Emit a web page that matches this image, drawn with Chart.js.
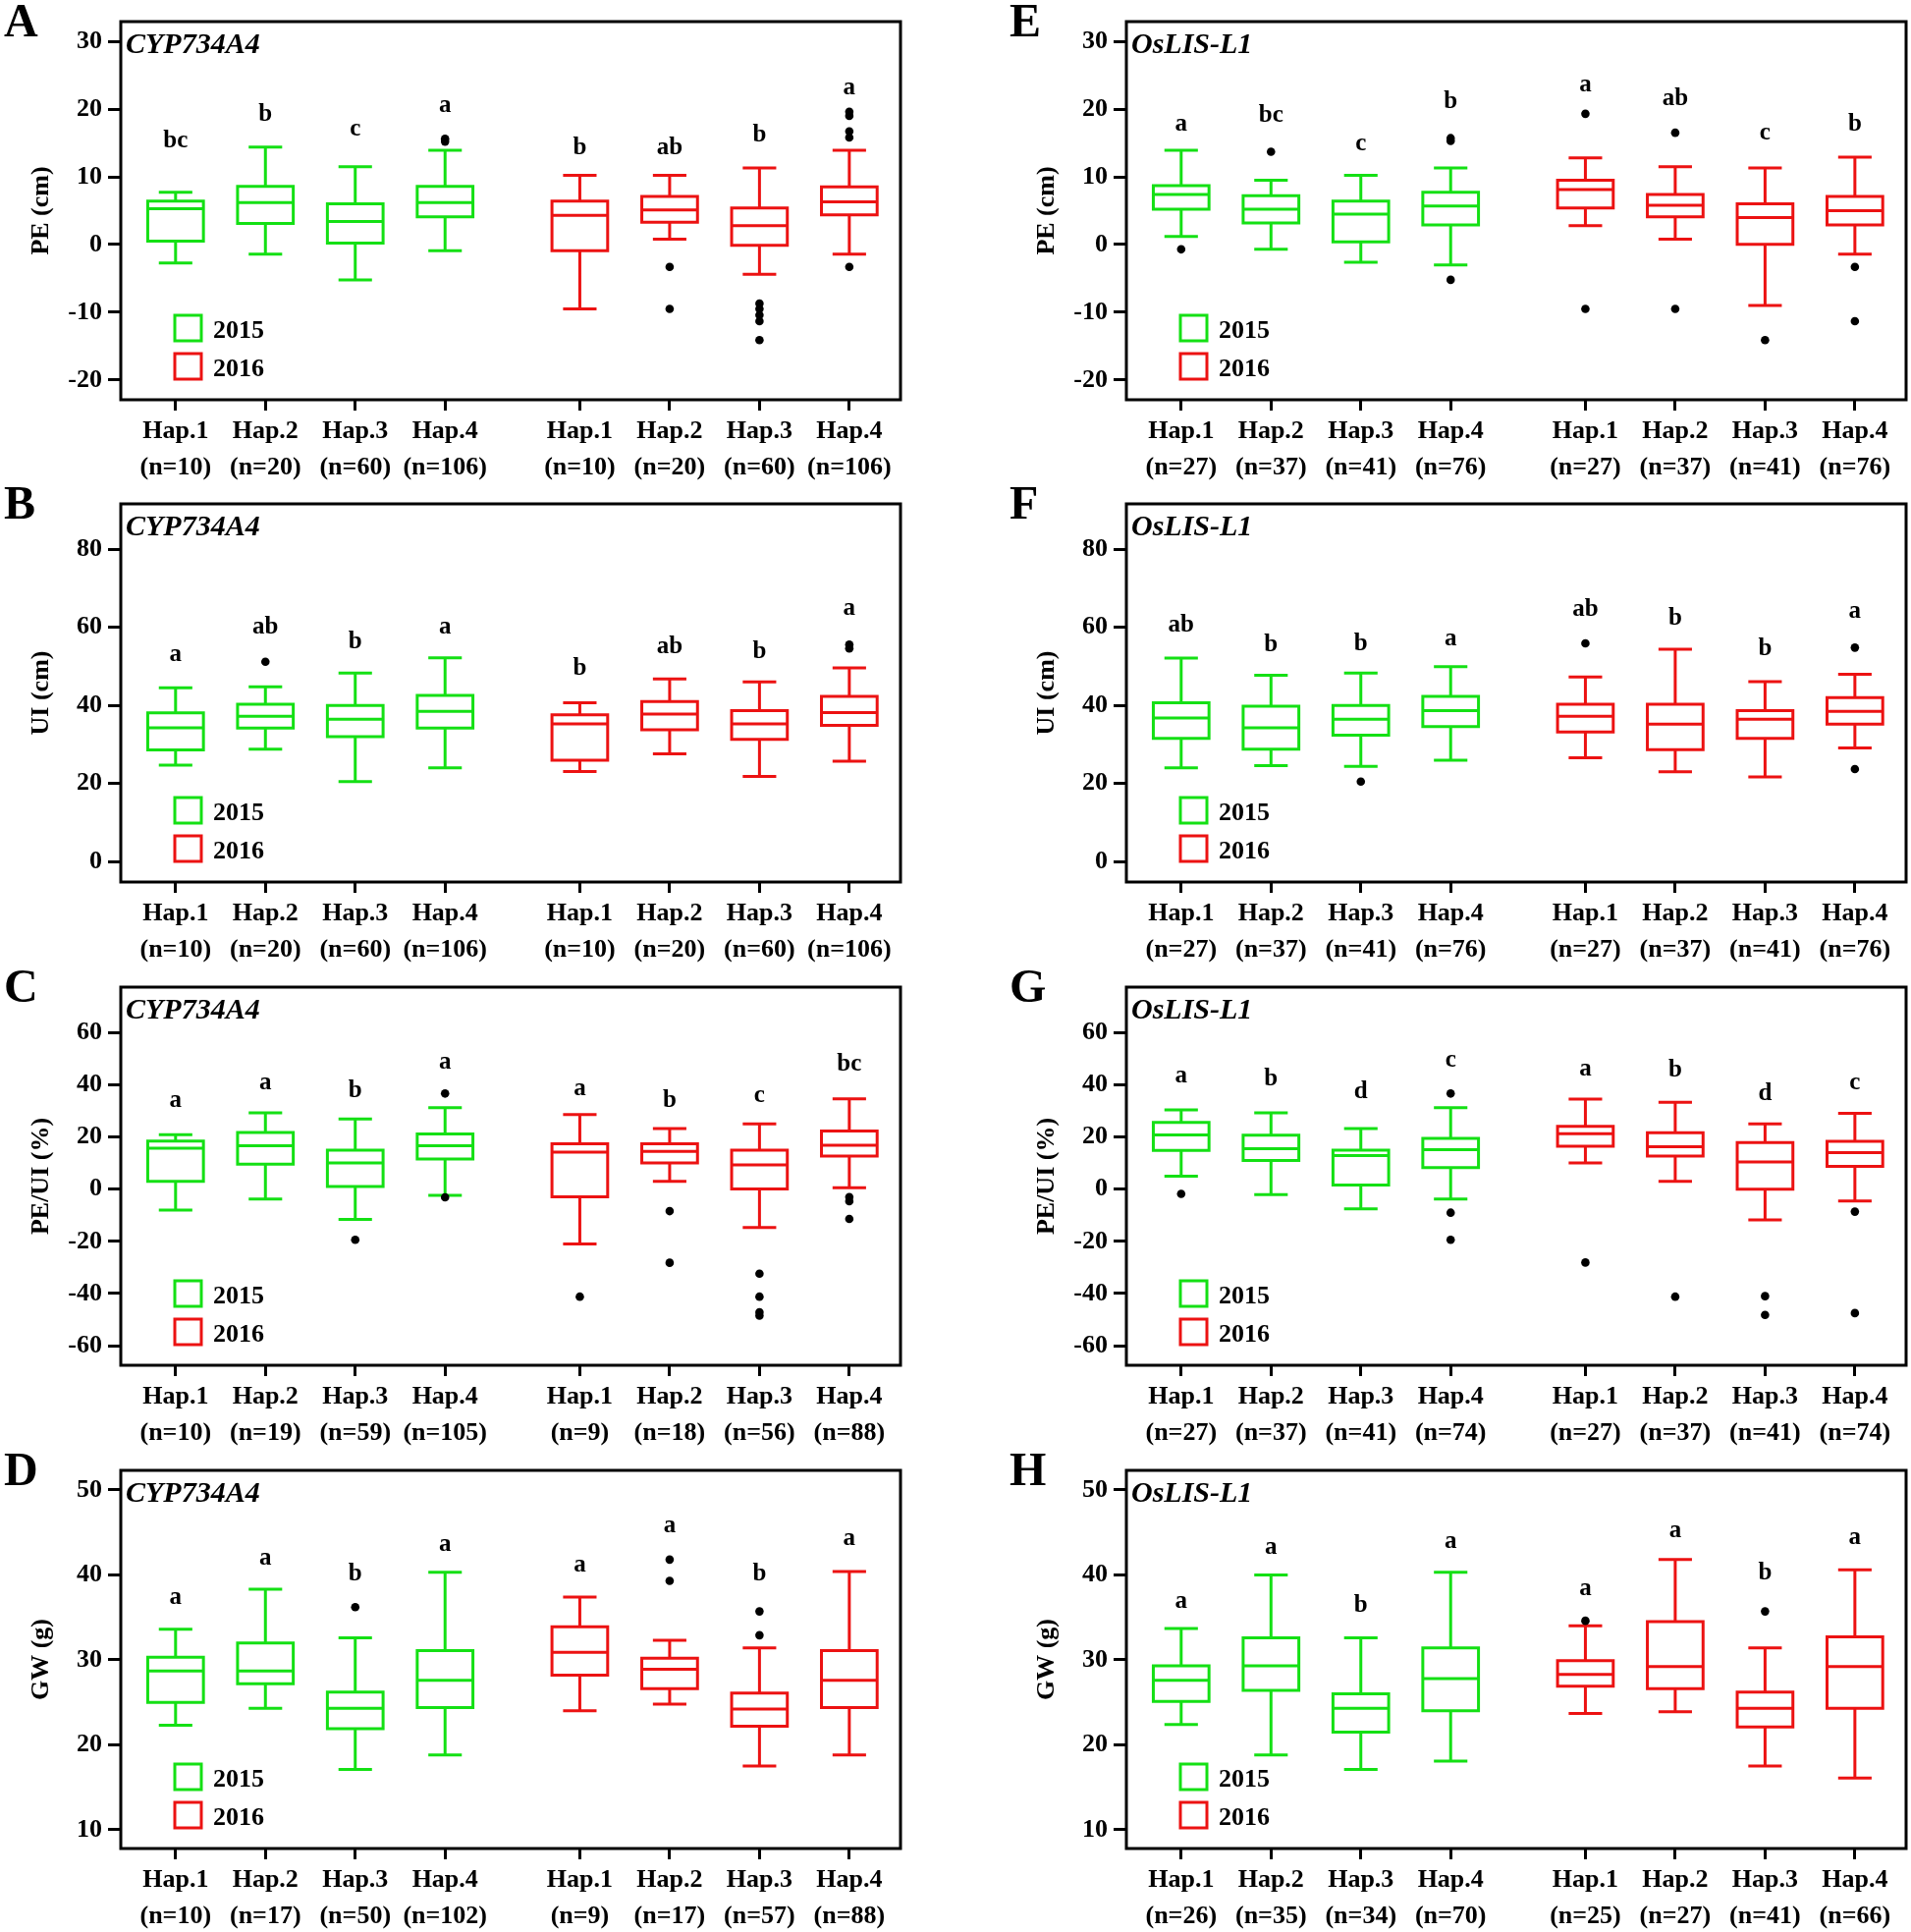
<!DOCTYPE html>
<html>
<head>
<meta charset="utf-8">
<script src="https://cdn.jsdelivr.net/npm/chart.js@4.4.1/dist/chart.umd.min.js"></script>
<style>
  body { margin: 0; background: #fff; }
  #wrap { position: relative; width: 1946px; height: 1967px; overflow: hidden; }
  #wrap canvas { position: absolute; }
</style>
</head>
<body>
<div id="wrap"></div>
<script>
const haps = ['Hap.1', 'Hap.2', 'Hap.3', 'Hap.4']
const years = ['2015', '2016']
const yearColors = ['#14e014', '#ec1212']

const peTicks = [-20, -10, 0, 10, 20, 30]
const uiTicks = [0, 20, 40, 60, 80]
const ratioTicks = [-60, -40, -20, 0, 20, 40, 60]
const gwTicks = [10, 20, 30, 40, 50]

// each box: [lower whisker, Q1, median, Q3, upper whisker]; Hap.1-4 of 2015, then Hap.1-4 of 2016
const statsA = [[-2.7, 0.5, 5.3, 6.4, 7.7], [-1.4, 3.1, 6.2, 8.6, 14.4], [-5.2, 0.2, 3.4, 6.0, 11.5], [-0.9, 4.1, 6.2, 8.6, 13.9],
                [-9.5, -0.9, 4.3, 6.4, 10.2], [0.8, 3.3, 5.1, 7.1, 10.2], [-4.4, -0.1, 2.8, 5.4, 11.3], [-1.4, 4.4, 6.3, 8.5, 13.9]]
const outA = [[], [], [], [15.6, 15.2], [], [-3.3, -9.5], [-8.7, -9.5, -10.4, -11.3, -14.1], [19.6, 19.0, 16.7, 15.8, -3.3]]
const lettersA = ['bc', 'b', 'c', 'a', 'b', 'ab', 'b', 'a']
const letterYA = [15.5, 19.4, 17.2, 20.7, 14.5, 14.5, 16.4, 23.4]
const nA = [10, 20, 60, 106, 10, 20, 60, 106]

const statsB = [[24.7, 28.6, 34.3, 38.1, 44.5], [28.8, 34.2, 37.2, 40.3, 44.8], [20.5, 32.0, 36.5, 40.0, 48.3], [24.0, 34.2, 38.5, 42.6, 52.2],
                [23.1, 26.0, 35.3, 37.6, 40.7], [27.6, 33.8, 37.8, 41.0, 46.8], [21.8, 31.3, 35.3, 38.7, 46.0], [25.7, 34.9, 38.2, 42.3, 49.6]]
const outB = [[], [51.2], [], [], [], [], [], [55.6, 54.6]]
const lettersB = ['a', 'ab', 'b', 'a', 'b', 'ab', 'b', 'a']
const letterYB = [53.5, 60.4, 56.6, 60.4, 49.8, 55.4, 54.1, 65.1]
const nB = [10, 20, 60, 106, 10, 20, 60, 106]

const statsC = [[-8.0, 3.0, 15.7, 18.5, 20.9], [-3.8, 9.6, 16.7, 21.8, 29.3], [-11.6, 1.0, 10.1, 15.0, 26.9], [-2.3, 11.6, 16.7, 21.2, 31.3],
                [-21.0, -2.9, 14.2, 17.4, 28.6], [3.0, 10.1, 14.5, 17.4, 23.3], [-14.7, 0.1, 9.3, 15.0, 25.1], [0.6, 12.7, 16.9, 22.3, 34.7]]
const outC = [[], [], [-19.4], [36.7, -3.1], [-41.2], [-8.4, -28.2], [-32.4, -41.2, -47.2, -48.5], [-3.0, -4.6, -11.4]]
const lettersC = ['a', 'a', 'b', 'a', 'a', 'b', 'c', 'bc']
const letterYC = [34.6, 41.5, 38.5, 49.2, 39.0, 34.7, 36.5, 48.4]
const nC = [10, 19, 59, 105, 9, 18, 56, 88]

const statsD = [[22.3, 25.0, 28.7, 30.3, 33.6], [24.3, 27.2, 28.7, 32.0, 38.3], [17.1, 21.9, 24.3, 26.2, 32.6], [18.8, 24.4, 27.6, 31.1, 40.3],
                [24.0, 28.2, 30.9, 33.9, 37.4], [24.8, 26.6, 28.9, 30.2, 32.3], [17.5, 22.2, 24.2, 26.1, 31.4], [18.8, 24.4, 27.6, 31.1, 40.4]]
const outD = [[], [], [36.2], [], [], [41.8, 39.3], [35.7, 32.9], []]
const lettersD = ['a', 'a', 'b', 'a', 'a', 'a', 'b', 'a']
const letterYD = [37.5, 42.1, 40.3, 43.8, 41.3, 46.0, 40.3, 44.4]
const nD = [10, 17, 50, 102, 9, 17, 57, 88]

const statsE = [[1.2, 5.2, 7.4, 8.7, 13.9], [-0.7, 3.2, 5.2, 7.2, 9.5], [-2.6, 0.4, 4.5, 6.4, 10.2], [-3.0, 2.9, 5.7, 7.7, 11.3],
                [2.8, 5.4, 8.1, 9.5, 12.8], [0.8, 4.1, 5.8, 7.4, 11.5], [-9.0, 0.05, 4.0, 6.0, 11.3], [-1.4, 2.9, 5.0, 7.1, 12.9]]
const outE = [[-0.7], [13.7], [], [15.7, 15.3, -5.2], [19.3, -9.5], [16.5, -9.5], [-14.1], [-3.3, -11.3]]
const lettersE = ['a', 'bc', 'c', 'b', 'a', 'ab', 'c', 'b']
const letterYE = [18.0, 19.3, 15.1, 21.3, 23.8, 21.8, 16.6, 17.9]
const nE = [27, 37, 41, 76, 27, 37, 41, 76]

const statsF = [[24.0, 31.6, 36.8, 40.7, 52.1], [24.6, 28.8, 34.3, 39.8, 47.7], [24.4, 32.4, 36.5, 40.0, 48.3], [26.0, 34.6, 38.7, 42.3, 49.9],
                [26.6, 33.2, 37.2, 40.3, 47.3], [23.0, 28.7, 35.2, 40.3, 54.4], [21.7, 31.6, 36.5, 38.7, 46.1], [29.1, 35.2, 38.5, 42.0, 48.0]]
const outF = [[], [], [20.5], [], [55.9], [], [], [54.8, 23.7]]
const lettersF = ['ab', 'b', 'b', 'a', 'ab', 'b', 'b', 'a']
const letterYF = [61.0, 56.0, 56.2, 57.5, 65.0, 62.7, 54.9, 64.4]
const nF = [27, 37, 41, 76, 27, 37, 41, 76]

const statsG = [[5.0, 14.9, 20.8, 25.6, 30.4], [-2.1, 11.0, 15.5, 20.7, 29.3], [-7.5, 1.6, 12.9, 15.0, 23.3], [-3.8, 8.3, 15.2, 19.5, 31.3],
                [10.1, 16.5, 21.3, 24.1, 34.6], [3.0, 12.7, 16.3, 21.7, 33.3], [-11.8, 0.0, 10.5, 17.9, 25.1], [-4.5, 8.8, 14.0, 18.4, 29.1]]
const outG = [[-1.8], [], [], [36.7, -9.0, -19.4], [-28.1], [-41.2], [-41.0, -48.2], [-8.6, -47.5]]
const lettersG = ['a', 'b', 'd', 'c', 'a', 'b', 'd', 'c']
const letterYG = [44.0, 42.7, 38.1, 49.9, 46.7, 46.1, 37.3, 41.2]
const nG = [27, 37, 41, 74, 27, 37, 41, 74]

const statsH = [[22.4, 25.1, 27.6, 29.3, 33.7], [18.8, 26.4, 29.3, 32.6, 40.0], [17.1, 21.5, 24.3, 26.0, 32.6], [18.1, 24.0, 27.8, 31.4, 40.3],
                [23.7, 26.9, 28.3, 29.9, 34.0], [23.9, 26.6, 29.2, 34.5, 41.8], [17.5, 22.1, 24.3, 26.2, 31.4], [16.1, 24.3, 29.2, 32.7, 40.6]]
const outH = [[], [], [], [], [34.6], [], [35.7], []]
const lettersH = ['a', 'a', 'b', 'a', 'a', 'a', 'b', 'a']
const letterYH = [37.1, 43.4, 36.6, 44.1, 38.6, 45.4, 40.4, 44.5]
const nH = [26, 35, 34, 70, 25, 27, 41, 66]

const serif = "'Liberation Serif', 'Times New Roman', serif"
Chart.defaults.font.family = serif
Chart.defaults.color = '#000'

const panels = [
    { id: 'A', gene: 'CYP734A4', title: 'PE (cm)', ticks: peTicks, min: -22.9, max: 32.9, stats: statsA, out: outA, letters: lettersA, letterY: letterYA, n: nA, col: 0, row: 0 },
    { id: 'B', gene: 'CYP734A4', title: 'UI (cm)', ticks: uiTicks, min: -5.2, max: 91.6, stats: statsB, out: outB, letters: lettersB, letterY: letterYB, n: nB, col: 0, row: 1 },
    { id: 'C', gene: 'CYP734A4', title: 'PE/UI (%)', ticks: ratioTicks, min: -67.5, max: 77.5, stats: statsC, out: outC, letters: lettersC, letterY: letterYC, n: nC, col: 0, row: 2 },
    { id: 'D', gene: 'CYP734A4', title: 'GW (g)', ticks: gwTicks, min: 7.8, max: 52.3, stats: statsD, out: outD, letters: lettersD, letterY: letterYD, n: nD, col: 0, row: 3 },
    { id: 'E', gene: 'OsLIS-L1', title: 'PE (cm)', ticks: peTicks, min: -22.9, max: 32.9, stats: statsE, out: outE, letters: lettersE, letterY: letterYE, n: nE, col: 1, row: 0 },
    { id: 'F', gene: 'OsLIS-L1', title: 'UI (cm)', ticks: uiTicks, min: -5.2, max: 91.6, stats: statsF, out: outF, letters: lettersF, letterY: letterYF, n: nF, col: 1, row: 1 },
    { id: 'G', gene: 'OsLIS-L1', title: 'PE/UI (%)', ticks: ratioTicks, min: -67.5, max: 77.5, stats: statsG, out: outG, letters: lettersG, letterY: letterYG, n: nG, col: 1, row: 2 },
    { id: 'H', gene: 'OsLIS-L1', title: 'GW (g)', ticks: gwTicks, min: 7.8, max: 52.3, stats: statsH, out: outH, letters: lettersH, letterY: letterYH, n: nH, col: 1, row: 3 }
]

const rowTops = [0, 491, 983, 1475]
const colLefts = [0, 1024]
const BOX = 0.31   // half box width, x units
const CAP = 0.17   // half whisker cap width

// 4 haplotypes per year, small gap between the years
function xOf(i) {
    return i + 1 + (i >= 4 ? 0.5 : 0)
}

function boxPoints(stats, k) {
    const pts = []
    stats.forEach((s, i) => {
        if (Math.floor(i / 4) !== k) return
        const x = xOf(i)
        const [lo, q1, med, q3, hi] = s
        pts.push({ x: x - BOX, y: q1 }, { x: x + BOX, y: q1 }, { x: x + BOX, y: q3 }, { x: x - BOX, y: q3 }, { x: x - BOX, y: q1 }, { x, y: null })
        pts.push({ x: x - BOX, y: med }, { x: x + BOX, y: med }, { x, y: null })
        pts.push({ x, y: q3 }, { x, y: hi }, { x, y: null })
        pts.push({ x: x - CAP, y: hi }, { x: x + CAP, y: hi }, { x, y: null })
        pts.push({ x, y: q1 }, { x, y: lo }, { x, y: null })
        pts.push({ x: x - CAP, y: lo }, { x: x + CAP, y: lo }, { x, y: null })
    })
    return pts
}

function outlierPoints(out) {
    const pts = []
    out.forEach((vals, i) => vals.forEach(v => pts.push({ x: xOf(i), y: v })))
    return pts
}

function makeDecor(p) {
    return {
        id: 'decor' + p.id,
        afterDraw(chart) {
            const { ctx, chartArea: a } = chart
            const x = chart.scales.x, y = chart.scales.y
            ctx.save()
            ctx.strokeStyle = '#000'
            ctx.lineWidth = 3
            ctx.strokeRect(a.left, a.top, a.right - a.left, a.bottom - a.top)

            ctx.fillStyle = '#000'
            ctx.textAlign = 'left'
            ctx.textBaseline = 'alphabetic'
            ctx.font = 'bold 48px ' + serif
            ctx.fillText(p.id, 4, 37)
            ctx.font = 'italic bold 30px ' + serif
            ctx.fillText(p.gene, a.left + 5, a.top + 32)

            // significance letters
            ctx.textAlign = 'center'
            ctx.font = 'bold 25px ' + serif
            p.letters.forEach((t, i) => {
                ctx.fillText(t, x.getPixelForValue(xOf(i)), y.getPixelForValue(p.letterY[i]) + 8)
            })

            // legend
            years.forEach((yr, k) => {
                const top = a.top + 299 + k * 39
                ctx.strokeStyle = yearColors[k]
                ctx.lineWidth = 3
                ctx.strokeRect(a.left + 55, top, 27, 26)
                ctx.textAlign = 'left'
                ctx.font = 'bold 26px ' + serif
                ctx.fillText(yr, a.left + 94, top + 23)
            })
            ctx.restore()
        }
    }
}

const wrap = document.getElementById('wrap')
panels.forEach(p => {
    const canvas = document.createElement('canvas')
    canvas.width = 922
    canvas.height = 491
    canvas.style.left = colLefts[p.col] + 'px'
    canvas.style.top = rowTops[p.row] + 'px'
    wrap.appendChild(canvas)

    const datasets = [{
        label: 'outliers',
        data: outlierPoints(p.out),
        showLine: false,
        pointRadius: 4.3,
        backgroundColor: '#000',
        pointBackgroundColor: '#000',
        pointBorderWidth: 0
    }]
    years.forEach((yr, k) => datasets.push({
        label: yr,
        data: boxPoints(p.stats, k),
        showLine: true,
        spanGaps: false,
        borderColor: yearColors[k],
        borderWidth: 3,
        borderCapStyle: 'square',
        borderJoinStyle: 'miter',
        pointRadius: 0,
        pointHitRadius: 0
    }))

    new Chart(canvas, {
        type: 'scatter',
        data: { datasets },
        options: {
            responsive: false,
            devicePixelRatio: 1,
            animation: false,
            events: [],
            layout: { padding: { top: 22, right: 5, left: 0, bottom: 0 } },
            plugins: { legend: { display: false }, tooltip: { enabled: false } },
            scales: {
                x: {
                    type: 'linear',
                    min: 0.39,
                    max: 9.07,
                    afterBuildTicks: s => { s.ticks = p.n.map((v, i) => ({ value: xOf(i) })) },
                    afterFit: s => { s.height = 84 },
                    border: { display: false },
                    grid: { drawOnChartArea: false, drawTicks: true, tickLength: 11, tickWidth: 3, tickColor: '#000' },
                    ticks: {
                        autoSkip: false,
                        maxRotation: 0,
                        padding: 3,
                        color: '#000',
                        font: { size: 26, weight: 'bold', lineHeight: 1.42 },
                        callback: (v, i) => [haps[i % 4], '(n=' + p.n[i] + ')']
                    }
                },
                y: {
                    type: 'linear',
                    min: p.min,
                    max: p.max,
                    afterBuildTicks: s => { s.ticks = p.ticks.map(v => ({ value: v })) },
                    afterFit: s => { s.width = 123 },
                    border: { display: false },
                    grid: { drawOnChartArea: false, drawTicks: true, tickLength: 13, tickWidth: 3, tickColor: '#000' },
                    ticks: { padding: 6, color: '#000', font: { size: 26, weight: 'bold' } },
                    title: { display: true, text: p.title, color: '#000', font: { size: 26, weight: 'bold' }, padding: { top: 27, bottom: 0 } }
                }
            }
        },
        plugins: [makeDecor(p)]
    })
})
</script>
</body>
</html>
